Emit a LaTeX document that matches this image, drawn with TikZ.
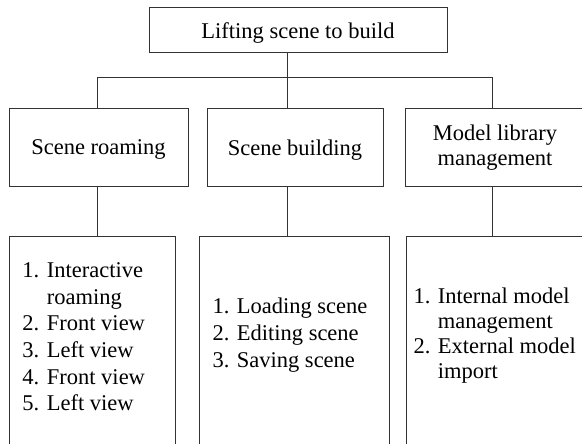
\documentclass[tikz,border=0pt]{standalone}
\usepackage{fontspec}
\setmainfont{Liberation Serif}
\begin{document}
\begin{tikzpicture}[x=1pt,y=-1pt,
  line width=1pt,
  every node/.style={font=\fontsize{22.5}{25}\selectfont, text=black},
  frame/.style={draw=black!80, anchor=north west, inner sep=0pt, outer sep=0pt},
  single/.style={frame, text depth=0pt},
  listtext/.style={anchor=west, align=left, inner sep=0pt},
  link/.style={draw=black!80}]
\clip (0,0) rectangle (582,444);

% top level
\node[single, minimum width=298pt, minimum height=45pt] (top) at (149,8) {Lifting scene to build};

% second level
\node[single, minimum width=179pt, minimum height=77pt] (roam) at (9,109) {Scene roaming};
\node[single, minimum width=176pt, minimum height=77pt] (build) at (207,109) {Scene building};
\node[frame, align=center, minimum width=180pt, minimum height=77pt] (lib) at (405,109) {Model library\\management};

% third level frames (open towards the bottom edge)
\node[frame, minimum width=166pt, minimum height=215pt] (list1) at (9,236) {};
\node[frame, minimum width=190pt, minimum height=215pt] (list2) at (199,236) {};
\node[frame, minimum width=180pt, minimum height=215pt] (list3) at (406,236) {};

% third level contents
\node[listtext, font=\fontsize{22.5}{26.6}\selectfont] (t1) at (22,337)
  {1. Interactive\\\hphantom{1. }roaming\\2. Front view\\3. Left view\\4. Front view\\5. Left view};
\node[listtext, font=\fontsize{22.5}{27}\selectfont] (t2) at (212,335)
  {1. Loading scene\\2. Editing scene\\3. Saving scene};
\node[listtext, font=\fontsize{22.5}{25}\selectfont] (t3) at (413,336)
  {1. Internal model\\\hphantom{1. }management\\2. External model\\\hphantom{1. }import};

% connector columns
\coordinate (hub) at (287,78);
\coordinate (c1) at (97,78);
\coordinate (c3) at (492,78);

\draw[link] (top.south -| hub) -- (hub);
\draw[link] (c1 |- roam.north) -- (c1) -- (c3) -- (c3 |- lib.north);
\draw[link] (hub) -- (hub |- build.north);

\draw[link] (c1 |- roam.south) -- (c1 |- list1.north);
\draw[link] (hub |- build.south) -- (hub |- list2.north);
\draw[link] (c3 |- lib.south) -- (c3 |- list3.north);
\end{tikzpicture}
\end{document}
